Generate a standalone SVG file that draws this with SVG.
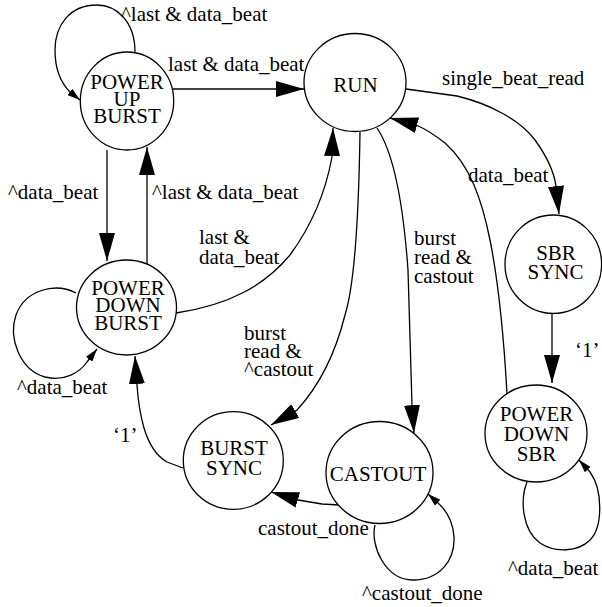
<svg xmlns="http://www.w3.org/2000/svg" width="602" height="607" viewBox="0 0 602 607">
<style>
.n{fill:#fff;stroke:#000;stroke-width:1.3}
.t{font-family:"Liberation Serif","Times New Roman",serif;font-size:21px;fill:#000}
.c{text-anchor:middle}
.e{fill:none;stroke:#000;stroke-width:1.3}
.big{marker-end:url(#ab)}
.sm{marker-end:url(#as)}
</style>
<defs>
<marker id="ab" viewBox="0 0 28 16" refX="28" refY="8" markerWidth="28" markerHeight="16" markerUnits="userSpaceOnUse" orient="auto"><path d="M0,0 L28,8 L0,16 z" fill="#000"/></marker>
<marker id="as" viewBox="0 0 13 8" refX="13" refY="4" markerWidth="13" markerHeight="8" markerUnits="userSpaceOnUse" orient="auto"><path d="M0,0 L13,4 L0,8 z" fill="#000"/></marker>
</defs>
<rect width="602" height="607" fill="#fff"/>
<g id="connectors">
<path class="e sm" d="M135,52 C135,20 115,5 97,5 C70,5 55,25 55,50 C55,70 62,84 70,92 L80,100"/>
<path class="e big" d="M173,89 L304,89"/>
<path class="e big" d="M107,150 L107,261"/>
<path class="e big" d="M147,264 L147,147"/>
<path class="e sm" d="M76,293 C55,282 25,290 16,315 C8,338 20,370 45,377 C65,382 80,372 87,362 L97,349"/>
<path class="e big" d="M176,313 C230,305 265,285 290,255 C312,225 326,190 332,157 L333,128"/>
<path class="e big" d="M360,132 C359,200 356,280 345,315 C335,355 320,385 297,410 L271,425"/>
<path class="e big" d="M377,128 C392,150 403,200 408,270 L412,405 L414,433"/>
<path class="e big" d="M406,89 L457,96 C490,104 520,120 535,140 C548,158 554,172 556,186 L559,214"/>
<path class="e big" d="M507,394 C504,340 500,290 490,240 C482,200 470,165 445,143 C436,136 428,130 416,125 L390,118"/>
<path class="e big" d="M552,313 L552,383"/>
<path class="e sm" d="M527,482 C520,500 522,530 540,543 C555,553 578,552 590,540 C603,527 603,490 590,472 L579,460"/>
<path class="e sm" d="M375,525 C370,545 385,580 413,580 C440,580 455,560 454,537 C453,522 446,510 438,503 L428,494"/>
<path class="e big" d="M339,505 L322,504 L298,500 L271,492"/>
<path class="e big" d="M183,468 L167,462 C160,458 150,448 144,428 C140,414 138,400 137,385 L135,356"/>
</g>
<g id="labels">
<text class="t" x="121" y="21">^last &amp; data_beat</text>
<text class="t" x="168" y="71">last &amp; data_beat</text>
<text class="t" x="8" y="199">^data_beat</text>
<text class="t" x="152" y="199">^last &amp; data_beat</text>
<text class="t" x="199" y="244">last &amp;</text>
<text class="t" x="199" y="264">data_beat</text>
<text class="t" x="17" y="394">^data_beat</text>
<text class="t" x="244" y="340">burst</text>
<text class="t" x="244" y="358">read &amp;</text>
<text class="t" x="244" y="376">^castout</text>
<text class="t" x="414" y="245">burst</text>
<text class="t" x="414" y="264">read &amp;</text>
<text class="t" x="414" y="283">castout</text>
<text class="t" x="442" y="85">single_beat_read</text>
<text class="t" x="468" y="182">data_beat</text>
<text class="t" x="575" y="357">&#8216;1&#8217;</text>
<text class="t" x="113" y="442">&#8216;1&#8217;</text>
<text class="t" x="258" y="535">castout_done</text>
<text class="t" x="362" y="600">^castout_done</text>
<text class="t" x="508" y="575">^data_beat</text>
</g>
<g id="power_up_burst">
<ellipse class="n" cx="127" cy="101" rx="46.7" ry="49"/>
<text class="t c" x="127" y="89">POWER</text>
<text class="t c" x="127" y="106">UP</text>
<text class="t c" x="127" y="122.5">BURST</text>
</g>
<g id="run">
<ellipse class="n" cx="355" cy="82.5" rx="51" ry="49"/>
<text class="t c" x="355.5" y="92">RUN</text>
</g>
<g id="power_down_burst">
<ellipse class="n" cx="126.5" cy="307.5" rx="50" ry="47.5"/>
<text class="t c" x="128" y="295">POWER</text>
<text class="t c" x="128" y="312">DOWN</text>
<text class="t c" x="128" y="329.5">BURST</text>
</g>
<g id="sbr_sync">
<ellipse class="n" cx="553.3" cy="264.2" rx="48.3" ry="49.2"/>
<text class="t c" x="556" y="260">SBR</text>
<text class="t c" x="555.5" y="279">SYNC</text>
</g>
<g id="power_down_sbr">
<ellipse class="n" cx="536" cy="433.5" rx="51" ry="48.5"/>
<text class="t c" x="536.5" y="421">POWER</text>
<text class="t c" x="536.5" y="440.5">DOWN</text>
<text class="t c" x="536.5" y="461">SBR</text>
</g>
<g id="burst_sync">
<ellipse class="n" cx="233.3" cy="460.5" rx="50" ry="48.8"/>
<text class="t c" x="234" y="455">BURST</text>
<text class="t c" x="234" y="475">SYNC</text>
</g>
<g id="castout">
<ellipse class="n" cx="379.5" cy="472.5" rx="53.5" ry="51"/>
<text class="t c" x="378" y="481">CASTOUT</text>
</g>
</svg>
